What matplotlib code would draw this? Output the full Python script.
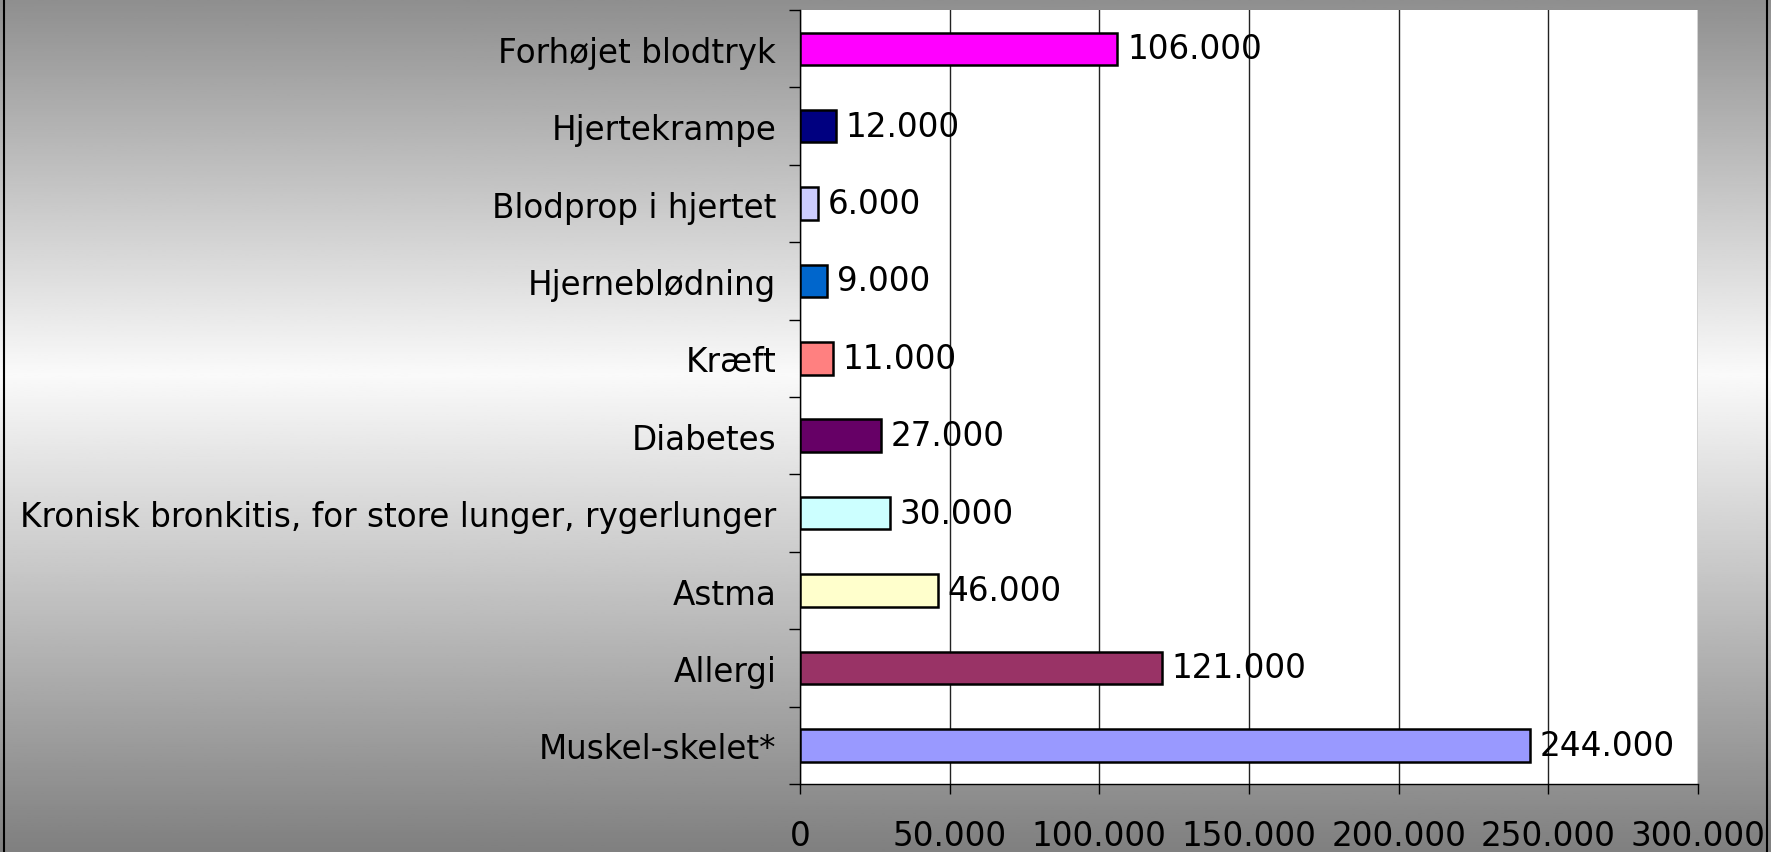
import numpy as np
import matplotlib
matplotlib.use('Agg')
import matplotlib.pyplot as plt
from matplotlib.ticker import FuncFormatter, MultipleLocator, FixedLocator

# data, bottom to top as drawn
categories = ['Muskel-skelet*', 'Allergi', 'Astma',
              'Kronisk bronkitis, for store lunger, rygerlunger',
              'Diabetes', 'Kræft', 'Hjerneblødning', 'Blodprop i hjertet',
              'Hjertekrampe', 'Forhøjet blodtryk']
values = [244000, 121000, 46000, 30000, 27000, 11000, 9000, 6000, 12000, 106000]
colors = ['#9999FF', '#993366', '#FFFFCC', '#CCFFFF', '#660066',
          '#FF8080', '#0066CC', '#CCCCFF', '#000080', '#FF00FF']

def dk(v, pos=None):
    return f'{int(v):,}'.replace(',', '.')

FS = 23.5

plt.rcParams['font.family'] = ['DejaVu Sans']
fig = plt.figure(figsize=(17.71, 8.53), dpi=100)

# grey background gradient (dark top/bottom, light in the middle)
bg = fig.add_axes([0, 0, 1, 1], zorder=-10)
yy = np.linspace(0, 1, 400)
g = np.interp(yy, [0, 0.44, 1], [0.56, 0.98, 0.5])
bg.imshow(np.repeat(g[:, None], 2, axis=1), cmap='gray', vmin=0, vmax=1,
          aspect='auto', extent=[0, 1, 1, 0])
bg.set_xlim(0, 1)
bg.set_ylim(1, 0)
bg.axis('off')
bg.plot([0.0025, 0.0025], [0, 1], color='black', lw=1.5)
bg.plot([0.9978, 0.9978], [0, 1], color='black', lw=1.5)

ax = fig.add_axes([0.4517, 0.0797, 0.5071, 0.9073])
ax.set_facecolor('white')
pos = np.arange(len(categories))
bars = ax.barh(pos, values, height=0.42, color=colors,
               edgecolor='black', linewidth=1.8, zorder=3)
for y, v in zip(pos, values):
    ax.annotate(dk(v), (v, y), xytext=(7, 0), textcoords='offset points',
                va='center', ha='left', fontsize=FS, zorder=4)

ax.set_xlim(0, 300000)
ax.set_ylim(-0.5, len(categories) - 0.5)
ax.xaxis.set_major_locator(MultipleLocator(50000))
ax.xaxis.set_major_formatter(FuncFormatter(dk))
ax.grid(axis='x', color='#222222', lw=1, zorder=1)
ax.set_yticks(pos)
ax.set_yticklabels(categories)
ax.yaxis.set_minor_locator(FixedLocator(np.arange(-0.5, len(categories), 1)))
ax.tick_params(axis='y', which='major', length=0, pad=17, labelsize=FS)
ax.tick_params(axis='y', which='minor', length=8, width=1, direction='out')
ax.tick_params(axis='x', length=7, width=1, direction='out', pad=18, labelsize=FS)
for s in ['top', 'right']:
    ax.spines[s].set_visible(False)
ax.spines['left'].set_linewidth(1)
ax.spines['bottom'].set_linewidth(1)

fig.savefig('out.png', dpi=100)
